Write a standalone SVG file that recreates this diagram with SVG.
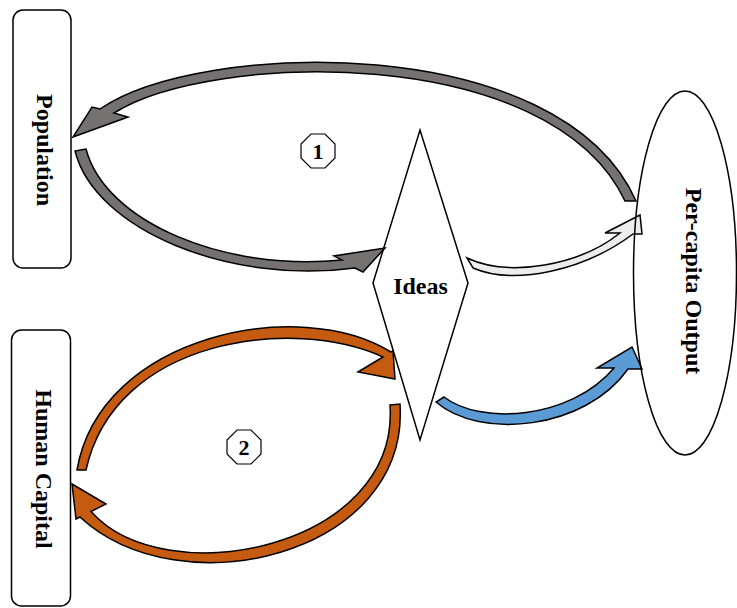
<svg xmlns="http://www.w3.org/2000/svg" width="737" height="608" viewBox="0 0 737 608">
<defs>
<style>
.arrow{stroke:#000;stroke-width:1.5;stroke-linejoin:miter}
.gray{fill:#767171}
.light{fill:#EDEDED}
.blue{fill:#5B9BD5}
.orange{fill:#C55A11}
.shape{fill:none;stroke:#000;stroke-width:1.5}
.txt{font-family:"Liberation Serif","Times New Roman",serif;font-weight:bold;font-size:24px;fill:#000;text-anchor:middle}
.num{font-family:"Liberation Serif","Times New Roman",serif;font-weight:bold;font-size:22px;fill:#000;text-anchor:middle}
.oct{fill:#fff;stroke:#000;stroke-width:1.2}
</style>
<polygon id="oct" points="17,-7 17,7 7,17 -7,17 -17,7 -17,-7 -7,-17 7,-17"/>
</defs>
<rect width="737" height="608" fill="#fff"/>
<g id="connectors">
<path id="c-output-population" class="arrow gray" d="M100,109 C200,40 560,30 636,201 L625,201 C550,42 210,52 114,113 L128,117 L73,137 L92,107 Z"/>
<path id="c-population-ideas" class="arrow gray" d="M86,149 L75,151 C95,230 230,285 355,268 L363,272 L385,248 L334,256 L342,260 C225,272 105,222 86,149 Z"/>
<path id="c-ideas-output-1" class="arrow light" d="M467,258 C510,278 580,265 620,233 L605,233 L640,215 L642,234 L633,234 C585,270 515,286 473,268 Z"/>
<path id="c-ideas-output-2" class="arrow blue" d="M444,397 C480,425 570,420 614,368 L597,368 L632,347 L642,369 L628,369 C585,430 480,440 436,402 Z"/>
<path id="c-human-ideas" class="arrow orange" d="M77,470 C100,335 300,295 391,352 L393,351 L395,379 L358,372 L383,357 C293,316 115,338 86,470 Z"/>
<path id="c-ideas-human" class="arrow orange" d="M390,405 L400,404 C410,555 180,610 80,517 L76,519 L72,484 L106,504 L91,511.5 C165,595 400,548 390,405 Z"/>
</g>
<g id="population">
<rect class="shape" x="13" y="10" width="58" height="258" rx="10"/>
<text class="txt" transform="translate(37,150) rotate(90)">Population</text>
</g>
<g id="human-capital">
<rect class="shape" x="11.5" y="330" width="59" height="276" rx="10"/>
<text class="txt" transform="translate(36,469) rotate(90)">Human Capital</text>
</g>
<g id="ideas">
<polygon class="shape" points="420,130 468,283 420,440 373,283"/>
<text class="txt" x="420.5" y="294">Ideas</text>
</g>
<g id="per-capita-output">
<ellipse class="shape" cx="685" cy="273" rx="51.5" ry="182"/>
<text class="txt" transform="translate(686,281) rotate(90)">Per-capita Output</text>
</g>
<g id="label-1">
<use href="#oct" class="oct" x="318" y="151"/>
<text class="num" x="318" y="158.5">1</text>
</g>
<g id="label-2">
<use href="#oct" class="oct" x="244" y="447"/>
<text class="num" x="244" y="454.5">2</text>
</g>
</svg>
